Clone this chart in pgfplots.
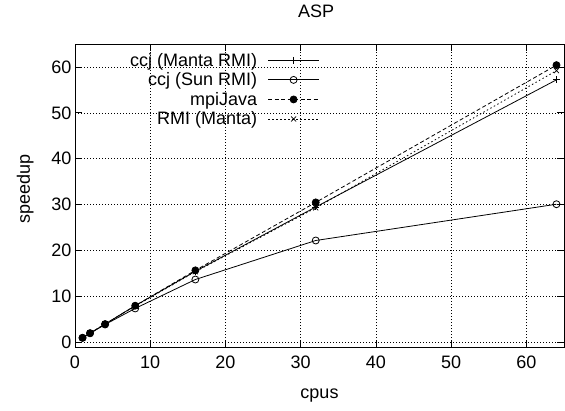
\documentclass[border=0pt]{standalone}
\usepackage{pgfplots}
\pgfplotsset{compat=1.18}
\usepackage{fontspec}
\setmainfont{Liberation Sans}
\begin{document}
\begin{tikzpicture}
\useasboundingbox (0,0) rectangle (565pt,410pt);
\begin{axis}[
  at={(75pt,63pt)}, anchor=south west,
  scale only axis, width=489pt, height=303pt,
  xmin=0, xmax=65, ymin=-1, ymax=65,
  xtick={0,10,...,60}, ytick={0,10,...,60},
  tick align=inside, major tick length=7pt,
  xtick pos=both, ytick pos=both,
  axis line style={line width=0.8pt},
  every tick/.style={black, line width=0.8pt},
  grid=major,
  major grid style={black, line width=0.6pt, dash pattern=on 1pt off 2pt},
  /pgf/number format/assume math mode=true,
  tick label style={font=\fontsize{18}{18}\selectfont},
  xticklabel style={yshift=-5pt},
  title={ASP},
  title style={font=\fontsize{18}{18}\selectfont, at={(axis description cs:0.493,1.088)}, anchor=center},
  xlabel={cpus},
  xlabel style={font=\fontsize{18}{18}\selectfont, at={(axis description cs:0.5,-0.16)}, anchor=center},
  ylabel={speedup},
  ylabel style={font=\fontsize{18}{18}\selectfont, at={(axis description cs:-0.102,0.52)}, anchor=center},
  legend plot pos=right,
  legend cell align=right,
  legend style={draw=none, fill=none, inner sep=0pt, outer sep=0pt,
    at={(axis description cs:0.5,0.975)}, anchor=north east,
    font=\fontsize{18}{18}\selectfont, row sep=2pt, column sep=9pt,
    nodes={inner sep=1.5pt}},
  legend image code/.code={\draw[mark repeat=2,mark phase=2,#1] plot coordinates {(0pt,0pt) (25.5pt,0pt) (51pt,0pt)};},
  every axis plot/.append style={black, line width=0.8pt, mark size=3.5pt},
]
\addplot[solid, mark=+, mark options={solid}] coordinates {(1,1) (2,2) (4,4) (8,8) (16,15.5) (32,29.5) (64,57.2)};
\addlegendentry{ccj (Manta RMI)}
\addplot[solid, mark=o, mark options={solid}] coordinates {(1,1) (2,2) (4,3.9) (8,7.4) (16,13.7) (32,22.2) (64,30.1)};
\addlegendentry{ccj (Sun RMI)}
\addplot[dash pattern=on 4pt off 2.5pt, mark=*, mark options={solid}] coordinates {(1,1) (2,2) (4,4) (8,8) (16,15.7) (32,30.5) (64,60.4)};
\addlegendentry{mpiJava}
\addplot[dash pattern=on 1.5pt off 2.5pt, mark=x, mark options={solid}] coordinates {(1,1) (2,2) (4,4) (8,7.9) (16,15.4) (32,29.3) (64,59.2)};
\addlegendentry{RMI (Manta)}
\end{axis}
\end{tikzpicture}
\end{document}
